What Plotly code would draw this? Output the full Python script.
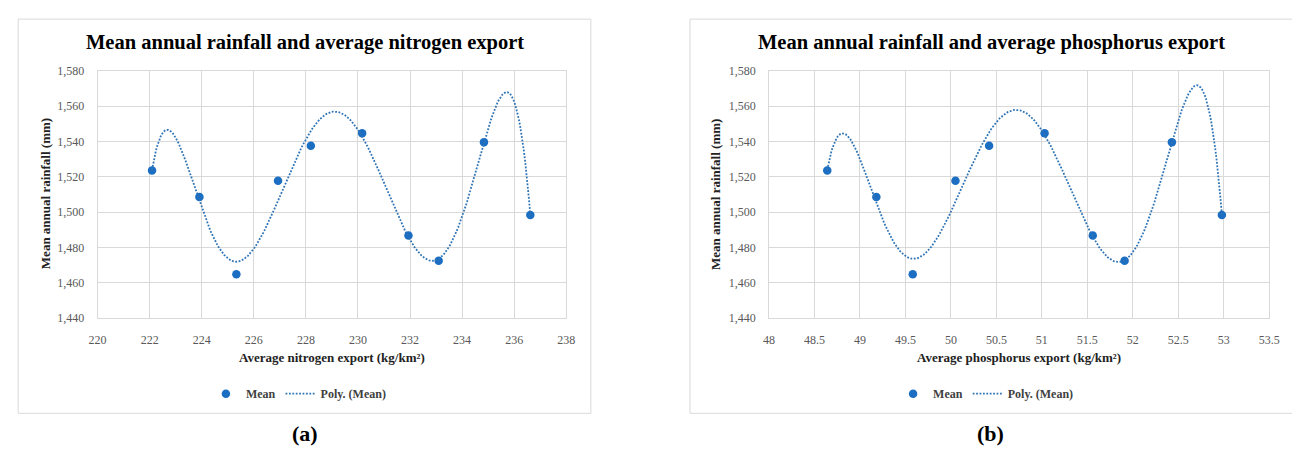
import numpy as np
import plotly.graph_objects as go

# ---- data ----
rainfall = [1523.5, 1508.5, 1464.9, 1517.8, 1537.6, 1544.6, 1486.8, 1472.5, 1539.5, 1498.4]
nitrogen = [222.09, 223.91, 225.33, 226.93, 228.19, 230.16, 231.94, 233.10, 234.84, 236.62]
phosphorus = [48.64, 49.18, 49.58, 50.05, 50.42, 51.03, 51.56, 51.91, 52.43, 52.98]
y_ticks = [1440, 1460, 1480, 1500, 1520, 1540, 1560, 1580]
poly_order = 6

W, H = 1292, 452
BLUE = "#1b6ec2"
LINE_BLUE = "#2f74b5"
GRID = "#d9d9d9"
SERIF = "Liberation Serif, Times New Roman, serif"


def px_x(v):
    return v / W


def px_y(v):
    return 1 - v / H


def trend(xs, ys, order):
    c = np.polyfit(xs, ys, order)
    xx = np.linspace(min(xs), max(xs), 300)
    return xx, np.polyval(c, xx)


fig = go.Figure()

panels = [
    dict(x=nitrogen, xa="x", ya="y", legend="legend"),
    dict(x=phosphorus, xa="x2", ya="y2", legend="legend2"),
]
for p in panels:
    fig.add_trace(go.Scatter(
        x=p["x"], y=rainfall, mode="markers", name="Mean",
        marker=dict(color=BLUE, size=8.5), xaxis=p["xa"], yaxis=p["ya"],
        legend=p["legend"]))
    tx, ty = trend(p["x"], rainfall, poly_order)
    fig.add_trace(go.Scatter(
        x=tx, y=ty, mode="lines", name="Poly. (Mean)",
        line=dict(color=LINE_BLUE, width=1.8, dash="1.8px,1.6px"),
        xaxis=p["xa"], yaxis=p["ya"], legend=p["legend"]))

yd = [px_y(321.2), px_y(65.7)]
common_x = dict(showgrid=True, gridcolor=GRID, gridwidth=1, zeroline=False,
                showline=True, linecolor=GRID, mirror=True,
                ticks="outside", ticklen=10, tickcolor="rgba(0,0,0,0)",
                tickfont=dict(family=SERIF, size=12, color="#595959"))
common_y = dict(showgrid=True, gridcolor=GRID, gridwidth=1, zeroline=False,
                showline=True, linecolor=GRID, mirror=True,
                range=[1440, 1580], tickvals=y_ticks, tickformat=",d",
                ticks="outside", ticklen=10, tickcolor="rgba(0,0,0,0)",
                tickfont=dict(family=SERIF, size=12, color="#595959"))

legend_font = dict(family=SERIF, size=12, color="#404040", weight="bold")
fig.update_layout(
    autosize=True,
    margin=dict(l=0, r=0, t=0, b=0),
    paper_bgcolor="white", plot_bgcolor="white",
    xaxis=dict(domain=[px_x(90), px_x(566)], range=[220, 238], dtick=2, tick0=220,
               anchor="y", **common_x),
    yaxis=dict(domain=yd, anchor="x", **common_y),
    xaxis2=dict(domain=[px_x(772), px_x(1280)], range=[48, 53.5], dtick=0.5, tick0=48,
                anchor="y2", **common_x),
    yaxis2=dict(domain=yd, anchor="x2", **common_y),
    legend=dict(orientation="h", x=px_x(200), xanchor="left", y=px_y(399), yanchor="middle",
                font=legend_font, bgcolor="rgba(0,0,0,0)", itemwidth=30),
    legend2=dict(orientation="h", x=px_x(898), xanchor="left", y=px_y(399), yanchor="middle",
                 font=legend_font, bgcolor="rgba(0,0,0,0)", itemwidth=30),
    showlegend=True,
)

# chart frames
fig.add_shape(type="rect", xref="paper", yref="paper",
              x0=px_x(9.3), x1=px_x(591), y0=px_y(419.3), y1=px_y(12.5),
              line=dict(color=GRID, width=1), layer="below")
fig.add_shape(type="rect", xref="paper", yref="paper",
              x0=px_x(691.7), x1=px_x(1310), y0=px_y(419.3), y1=px_y(12.5),
              line=dict(color=GRID, width=1), layer="below")

texts = [
    ("<b>Mean annual rainfall and average nitrogen export</b>", 300.5, 36.5, 20.5, 0, "#000000"),
    ("<b>Mean annual rainfall and average phosphorus export</b>", 997.5, 36.5, 20.5, 0, "#000000"),
    ("<b>Mean annual rainfall (mm)</b>", 36.7, 193, 13, -90, "#222222"),
    ("<b>Mean annual rainfall (mm)</b>", 717, 193, 13, -90, "#222222"),
    ("<b>Average nitrogen export (kg/km²)</b>", 327.7, 361.7, 13, 0, "#222222"),
    ("<b>Average phosphorus export (kg/km²)</b>", 1026, 361.7, 13, 0, "#222222"),
    ("<b>(a)</b>", 301, 440, 22, 0, "#000000"),
    ("<b>(b)</b>", 997, 440, 22, 0, "#000000"),
]
for t, x, y, s, ang, col in texts:
    fig.add_annotation(text=t, xref="paper", yref="paper", x=px_x(x), y=px_y(y),
                       xanchor="center", yanchor="middle", showarrow=False, textangle=ang,
                       font=dict(family=SERIF, size=s, color=col))

post = ("document.documentElement.style.margin='0';"
        "document.documentElement.style.padding='0';"
        "document.documentElement.style.overflow='hidden';"
        "document.body.style.margin='0';document.body.style.padding='0';"
        "document.body.style.overflow='hidden';")

fig.write_html(
    "out.html",
    config={"displayModeBar": False, "responsive": False},
    default_width=f"{W}px;position:fixed;left:0;top:0;margin:0",
    default_height=f"{H}px",
    post_script=post,
)
